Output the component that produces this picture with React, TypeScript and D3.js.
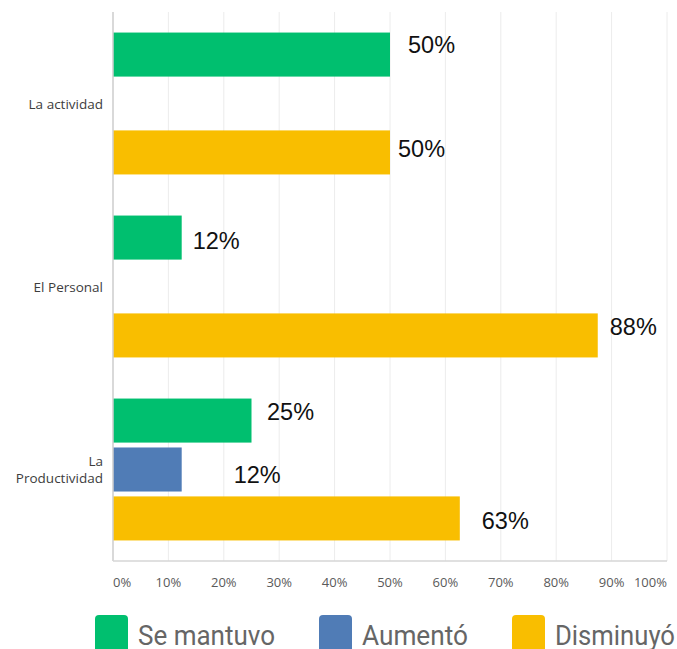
import React from "react";
import * as d3 from "d3";

const categories = ["La actividad", "El Personal", "La Productividad"];
const seriesNames = ["Se mantuvo", "Aumentó", "Disminuyó"];
const seMantuvo = [50, 12.4, 25];
const aumento = [0, 0, 12.4];
const disminuyo = [50, 87.5, 62.6];
const tickValues = [0, 10, 20, 30, 40, 50, 60, 70, 80, 90, 100];

const colors = ["#00BF6F", "#507CB6", "#F9BE00"];

// label nudges (dx, dy) per category/series, annotation placement only
const labelNudge: Record<string, [number, number]> = {
  "0-0": [18, -10],
  "0-2": [8, -3.5],
  "1-0": [11, 3],
  "1-2": [12, -8.5],
  "2-0": [15.5, -8.5],
  "2-1": [52, 5],
  "2-2": [22, 2.5],
};

export default function App() {
  const W = 677;
  const H = 649;
  const left = 113;
  const right = 667;
  const top = 12;
  const bottom = 561;

  const x = d3.scaleLinear().domain([0, 100]).range([left, right]);
  const y0 = d3.scaleBand<string>().domain(categories).range([top, bottom]).padding(0);
  const y1 = d3
    .scaleBand<string>()
    .domain(seriesNames)
    .range([0, y0.bandwidth()])
    .paddingInner(0.1)
    .paddingOuter(0.42);

  const series = [seMantuvo, aumento, disminuyo];
  const fmt = (v: number) => `${Math.round(v)}%`;

  const legendTextLen = [137, 106, 120];
  const legendItems: { x: number; name: string; color: string; len: number }[] = [];
  let lx = 95;
  seriesNames.forEach((n, i) => {
    legendItems.push({ x: lx, name: n, color: colors[i], len: legendTextLen[i] });
    lx += 33 + 10 + legendTextLen[i] + 44;
  });

  return (
    <svg
      width={W}
      height={H}
      style={{ position: "absolute", left: 0, top: 0, background: "#fff" }}
    >
      {/* gridlines */}
      {tickValues.map((t) => (
        <line
          key={"g" + t}
          x1={x(t)}
          x2={x(t)}
          y1={top}
          y2={bottom}
          stroke="#ececec"
          strokeWidth={1}
        />
      ))}
      {/* bars */}
      {categories.map((c, ci) =>
        series.map((s, si) => {
          const v = s[ci];
          if (!v) return null;
          const yy = (y0(c) as number) + (y1(seriesNames[si]) as number);
          return (
            <rect
              key={c + si}
              x={x(0)}
              y={yy}
              width={x(v) - x(0)}
              height={y1.bandwidth()}
              fill={colors[si]}
            />
          );
        })
      )}
      {/* axis lines */}
      <line x1={left} x2={left} y1={top} y2={bottom} stroke="#cfcfcf" strokeWidth={1.5} />
      <line x1={left} x2={right} y1={bottom} y2={bottom} stroke="#d6d6d6" strokeWidth={1.5} />
      {/* data labels */}
      {categories.map((c, ci) =>
        series.map((s, si) => {
          const v = s[ci];
          if (!v) return null;
          const nudge = labelNudge[`${ci}-${si}`] || [12, 0];
          const cy = (y0(c) as number) + (y1(seriesNames[si]) as number) + y1.bandwidth() / 2;
          return (
            <text
              key={"l" + c + si}
              x={x(v) + nudge[0]}
              y={cy + nudge[1]}
              dominantBaseline="central"
              fontFamily="'Liberation Sans', Arial, sans-serif"
              fontSize={23.5}
              fill="#111"
            >
              {fmt(v)}
            </text>
          );
        })
      )}
      {/* category labels */}
      {categories.map((c) => {
        const cy = (y0(c) as number) + y0.bandwidth() / 2;
        const lines = c === "La Productividad" ? ["La", "Productividad"] : [c];
        const lh = 16.5;
        return (
          <text
            key={"c" + c}
            x={103}
            textAnchor="end"
            fontFamily="'Open Sans', sans-serif"
            fontSize={13.5}
            fill="#3d3d3d"
          >
            {lines.map((l, i) => (
              <tspan
                key={i}
                x={103}
                y={cy - ((lines.length - 1) * lh) / 2 + i * lh}
                dominantBaseline="central"
              >
                {l}
              </tspan>
            ))}
          </text>
        );
      })}
      {/* x tick labels */}
      {tickValues.map((t, i) => (
        <text
          key={"t" + t}
          x={x(t)}
          y={582}
          textAnchor={i === 0 ? "start" : i === tickValues.length - 1 ? "end" : "middle"}
          dominantBaseline="central"
          fontFamily="'Open Sans', sans-serif"
          fontSize={13}
          fill="#5a5a5a"
        >
          {t}%
        </text>
      ))}
      {/* legend */}
      {legendItems.map((it) => (
        <g key={it.name}>
          <rect x={it.x} y={615} width={33} height={42} rx={4} ry={4} fill={it.color} />
          <text
            x={it.x + 43}
            y={645}
            fontFamily="Roboto, sans-serif"
            fontSize={27}
            fill="#666"
            textLength={it.len}
            lengthAdjust="spacingAndGlyphs"
          >
            {it.name}
          </text>
        </g>
      ))}
    </svg>
  );
}
